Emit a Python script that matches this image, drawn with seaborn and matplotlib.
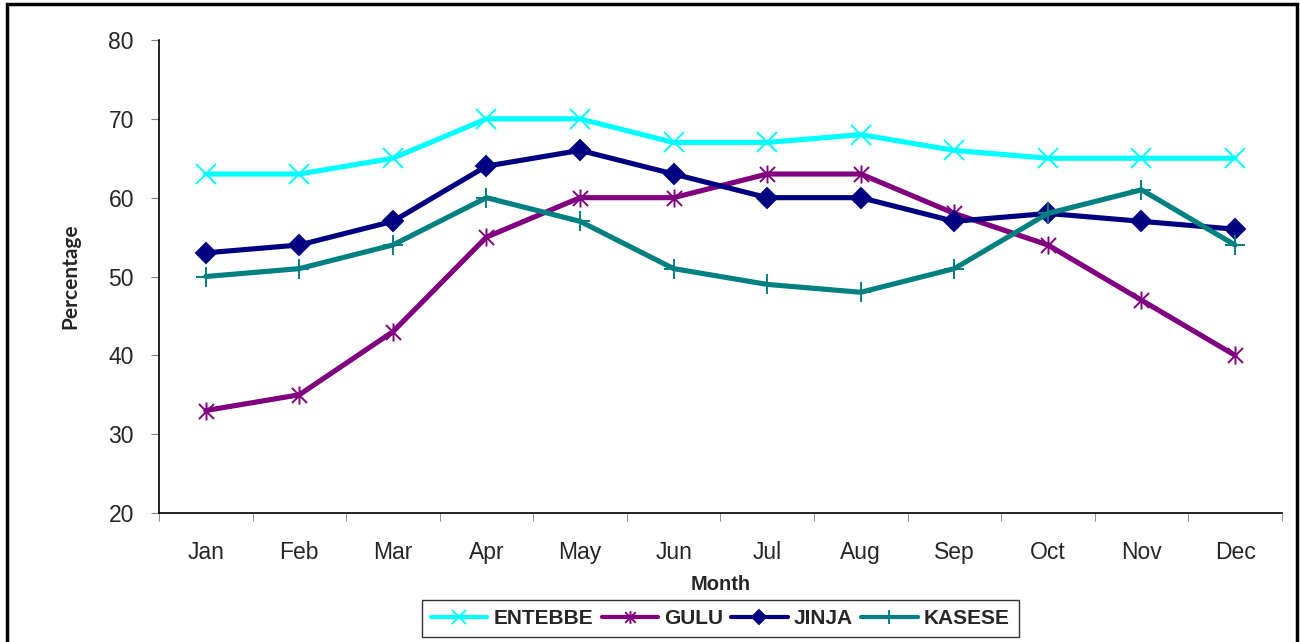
import matplotlib
matplotlib.use("Agg")
import matplotlib.pyplot as plt
from matplotlib.patches import Rectangle
from matplotlib.path import Path
import seaborn as sns
import pandas as pd
import numpy as np

months = ["Jan", "Feb", "Mar", "Apr", "May", "Jun", "Jul", "Aug", "Sep", "Oct", "Nov", "Dec"]
entebbe = [63, 63, 65, 70, 70, 67, 67, 68, 66, 65, 65, 65]
gulu = [33, 35, 43, 55, 60, 60, 63, 63, 58, 54, 47, 40]
jinja = [53, 54, 57, 64, 66, 63, 60, 60, 57, 58, 57, 56]
kasese = [50, 51, 54, 60, 57, 51, 49, 48, 51, 58, 61, 54]
stations = ["ENTEBBE", "GULU", "JINJA", "KASESE"]
series = [entebbe, gulu, jinja, kasese]
y_ticks = [20, 30, 40, 50, 60, 70, 80]

sns.set_style("white")
plt.rcParams["font.family"] = ["Liberation Sans", "DejaVu Sans"]

star = Path([(-1, -1), (1, 1), (-1, 1), (1, -1), (0, -1.2), (0, 1.2)],
            [Path.MOVETO, Path.LINETO, Path.MOVETO, Path.LINETO, Path.MOVETO, Path.LINETO])

palette = {"ENTEBBE": "#00FFFF", "GULU": "#800080", "JINJA": "#000080", "KASESE": "#008080"}
markers = {"ENTEBBE": "x", "GULU": star, "JINJA": "D", "KASESE": "+"}
msizes = {"ENTEBBE": 14, "GULU": 13, "JINJA": 10.5, "KASESE": 14}

fig = plt.figure(figsize=(13, 6.42), dpi=100)
ax = fig.add_axes([0.1223, 0.2009, 0.8637, 0.7368])

for name, vals in zip(stations, series):
    d = pd.DataFrame({"Month": np.arange(12), "Percentage": vals})
    sns.lineplot(data=d, x="Month", y="Percentage", color=palette[name],
                 marker=markers[name], markersize=msizes[name],
                 markeredgewidth=1.4, markeredgecolor=palette[name],
                 markerfacecolor=(palette[name] if name == "JINJA" else "none"),
                 linewidth=3.7, label=name, legend=False, ax=ax)

ax.set_xlim(-0.5, 11.5)
ax.set_ylim(20, 80)
ax.set_yticks(y_ticks)
ax.set_xticks(range(12))
ax.set_xticklabels(months)
ax.set_xticks(np.arange(-0.5, 12, 1), minor=True)
ax.tick_params(axis="x", which="major", length=0, pad=20, labelsize=16.5)
ax.tick_params(axis="x", which="minor", length=6, direction="out", color="#808080", bottom=True)
ax.tick_params(axis="y", length=6, direction="out", color="#808080", labelsize=16.5, pad=12, left=True)

for s in ["top", "right"]:
    ax.spines[s].set_visible(False)
for s in ["left", "bottom"]:
    ax.spines[s].set_color("black")
    ax.spines[s].set_linewidth(1.2)

ax.set_xlabel("Month", fontsize=14.5, fontweight="bold", labelpad=8)
ax.set_ylabel("Percentage", fontsize=15, fontweight="bold", labelpad=20,
              family=["Lato", "DejaVu Sans"])

leg = ax.legend(ax.lines, stations, loc="lower center", bbox_to_anchor=(0.5, -0.285),
                ncol=4, frameon=True, fancybox=False,
                prop={"weight": "bold", "size": 15}, handlelength=2.7,
                markerscale=0.7, columnspacing=0.4, handletextpad=0.3,
                borderpad=0.45, edgecolor="black")
leg.get_frame().set_linewidth(1.0)
for h in leg.legend_handles:
    h.set_linewidth(3)

fig.patches.append(Rectangle((0.005, -0.01), 0.993, 1.003, transform=fig.transFigure,
                             fill=False, edgecolor="black", linewidth=2.5, figure=fig))

fig.savefig("out.png", dpi=100)
